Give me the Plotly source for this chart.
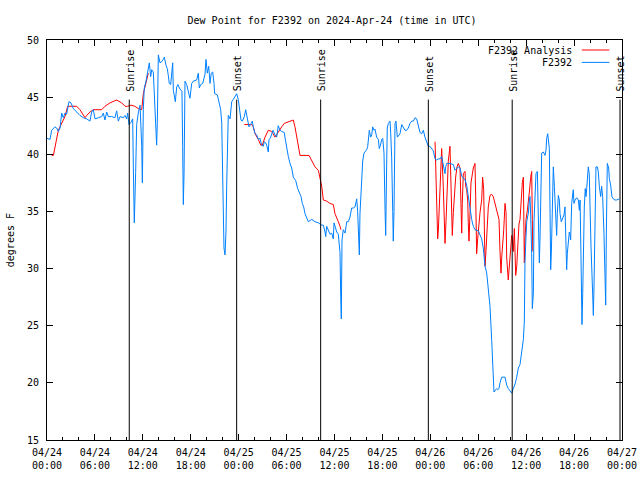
import pandas as pd
import plotly.graph_objects as go

BASE = pd.Timestamp("2024-04-24 00:00")

# F2392 observations: hours after 2024-04-24 00:00 UTC, dew point (F)
blue_hours = [
    0.0, 0.38, 0.58, 1.0, 1.21, 1.42, 1.63, 1.84, 2.04, 2.25, 2.46, 2.75, 3.0, 3.3, 3.71, 4.13, 4.55, 4.97,
    5.38, 5.59, 5.8, 6.01, 6.43, 6.85, 7.05, 7.26, 7.47, 7.68, 8.1, 8.51, 8.72, 8.93, 9.14, 9.56, 9.77, 9.98,
    10.1, 10.27, 10.52, 10.73, 10.81, 10.93, 11.1, 11.23, 11.43, 11.65, 11.86, 11.94, 12.06, 12.18, 12.4,
    12.56, 12.69, 12.81, 12.98, 13.11, 13.31, 13.52, 13.61, 13.73, 13.81, 13.94, 14.15, 14.36, 14.56, 14.69,
    14.9, 15.06, 15.19, 15.31, 15.49, 15.61, 15.74, 15.82, 15.94, 16.07, 16.24, 16.4, 16.57, 16.74, 16.9,
    16.99, 17.07, 17.16, 17.28, 17.49, 17.69, 17.9, 18.12, 18.32, 18.74, 18.95, 19.07, 19.25, 19.5, 19.78,
    19.91, 20.07, 20.25, 20.41, 20.57, 20.75, 20.91, 21.0, 21.33, 21.58, 21.75, 21.88, 22.0, 22.16, 22.29,
    22.41, 22.5, 22.63, 22.7, 22.92, 23.13, 23.33, 23.54, 23.75, 23.95, 24.08, 24.17, 24.29, 24.46, 24.71,
    24.88, 25.0, 25.13, 25.29, 25.55, 25.71, 25.83, 26.05, 26.26, 26.46, 26.67, 26.88, 27.09, 27.21, 27.38,
    27.51, 27.71, 27.8, 27.96, 28.13, 28.3, 28.55, 28.76, 28.96, 29.18, 29.39, 29.71, 29.89, 30.01, 30.22,
    30.43, 30.64, 30.84, 31.14, 31.39, 31.55, 31.81, 31.97, 32.14, 32.31, 32.52, 32.72, 32.93, 33.15, 33.56,
    33.98, 34.4, 34.6, 34.81, 34.9, 35.02, 35.23, 35.44, 35.65, 35.85, 35.94, 36.1, 36.28, 36.48, 36.69,
    36.78, 36.85, 36.94, 37.1, 37.32, 37.53, 37.73, 37.94, 38.15, 38.36, 38.57, 38.69, 38.78, 38.9, 38.98,
    39.11, 39.19, 39.28, 39.41, 39.53, 39.69, 39.82, 40.03, 40.16, 40.24, 40.36, 40.53, 40.66, 40.78, 40.95,
    41.07, 41.28, 41.49, 41.61, 41.79, 41.91, 42.04, 42.2, 42.33, 42.41, 42.54, 42.61, 42.74, 42.95, 43.04,
    43.16, 43.29, 43.36, 43.45, 43.58, 43.7, 43.87, 43.99, 44.2, 44.42, 44.61, 44.83, 45.04, 45.24, 45.45,
    45.67, 45.87, 46.08, 46.29, 46.49, 46.71, 46.92, 47.12, 47.33, 47.54, 47.75, 47.96, 48.17, 48.37, 48.59,
    48.8, 49.0, 49.21, 49.42, 49.62, 49.84, 49.92, 50.05, 50.46, 50.88, 51.09, 51.3, 51.5, 51.72, 51.84,
    51.93, 52.13, 52.34, 52.55, 52.75, 52.97, 53.18, 53.38, 53.59, 54.01, 54.22, 54.43, 54.63, 54.85, 55.06,
    55.26, 55.47, 55.68, 55.81, 55.97, 56.19, 56.31, 56.44, 56.6, 56.72, 56.94, 57.35, 57.56, 57.76, 57.98,
    58.19, 58.39, 58.61, 58.82, 59.02, 59.23, 59.44, 59.65, 59.77, 59.85, 59.98, 60.07, 60.2, 60.27, 60.4,
    60.48, 60.57, 60.69, 60.77, 60.9, 60.98, 61.11, 61.23, 61.4, 61.52, 61.65, 61.73, 61.82, 61.94, 62.15,
    62.36, 62.49, 62.57, 62.7, 62.9, 62.99, 63.07, 63.15, 63.24, 63.32, 63.4, 63.53, 63.65, 63.82, 63.9,
    64.03, 64.15, 64.24, 64.4, 64.58, 64.74, 64.86, 64.99, 65.07, 65.15, 65.28, 65.4, 65.49, 65.57, 65.7,
    65.9, 65.99, 66.12, 66.33, 66.53, 66.66, 66.75, 66.87, 66.99, 67.08, 67.15, 67.28, 67.4, 67.49, 67.58,
    67.65, 67.78, 67.9, 67.99, 68.12, 68.33, 68.41, 68.49, 68.62, 68.74, 68.91, 69.03, 69.16, 69.33, 69.45,
    69.58, 69.74, 69.87, 69.96, 70.04, 70.16, 70.33, 70.41, 70.58, 70.74, 70.91, 71.12, 71.33, 71.66,
]
blue_dewpt = [
    41.4, 41.3, 42.1, 42.4, 42.3, 42.0, 42.3, 43.6, 43.2, 43.6, 43.5, 44.6, 44.5, 44.0, 43.7, 43.4, 43.2, 43.1,
    42.9, 43.7, 43.9, 43.1, 43.2, 43.3, 43.6, 43.0, 43.7, 43.3, 43.3, 43.2, 43.8, 42.9, 43.3, 43.2, 43.4, 43.1,
    43.6, 42.6, 42.8, 43.1, 38.9, 34.0, 38.4, 42.6, 43.6, 44.3, 40.7, 37.5, 43.9, 45.8, 46.4,
    47.1, 47.8, 48.0, 46.8, 47.4, 47.2, 44.0, 41.9, 40.8, 42.7, 48.7, 48.0, 48.1, 48.3, 48.5,
    47.8, 47.5, 46.9, 46.2, 46.1, 47.5, 48.0, 45.6, 44.9, 44.6, 45.9, 46.1, 45.8, 45.6, 45.5,
    40.7, 35.6, 38.3, 46.4, 46.1, 45.5, 44.9, 46.2, 46.4, 46.5, 47.1, 45.8, 46.1, 46.2, 47.0,
    48.3, 47.1, 47.7, 46.2, 47.1, 47.2, 46.2, 45.3, 45.2, 44.5, 43.9, 42.7, 37.2, 31.8, 31.2,
    33.2, 37.3, 41.4, 43.4, 43.1, 44.6, 44.8, 45.0, 45.3, 44.8, 44.0, 43.9, 43.0, 42.9, 43.3,
    43.9, 43.4, 43.0, 42.4, 42.7, 42.9, 42.4, 41.8, 41.7, 41.3, 41.4, 40.8, 40.7, 41.1, 41.0,
    40.8, 40.2, 41.3, 41.4, 41.8, 42.1, 41.7, 41.5, 42.5, 42.1, 42.0, 41.9, 41.1, 40.5, 39.8,
    39.2, 38.8, 38.0, 37.7, 37.0, 36.7, 36.3, 35.7, 35.4, 34.8, 34.5, 34.1, 34.2, 34.3, 34.1,
    34.0, 33.8, 33.8, 33.2, 32.8, 33.7, 33.4, 33.0, 33.1, 32.6, 34.0, 33.6, 33.2, 33.0, 31.4,
    27.5, 25.6, 32.5, 33.4, 33.1, 34.1, 34.1, 34.5, 35.3, 35.3, 35.4, 35.7, 36.1, 35.0, 32.5,
    31.2, 34.8, 36.3, 38.3, 39.4, 40.1, 40.2, 40.4, 40.7, 41.5, 42.1, 41.5, 41.7, 42.4, 42.1,
    42.2, 41.5, 41.3, 40.5, 40.9, 41.3, 41.4, 40.1, 35.1, 32.9, 39.5, 42.3, 42.7, 42.9, 41.8,
    39.7, 35.0, 32.4, 35.0, 42.7, 42.9, 41.5, 41.6, 41.8, 42.6, 42.4, 42.1, 42.1, 42.3, 42.7,
    42.9, 42.9, 43.2, 43.1, 42.4, 41.9, 41.8, 42.1, 41.5, 41.1, 40.7, 40.7, 40.5, 40.3, 39.6,
    39.5, 39.6, 39.6, 39.8, 39.1, 38.3, 38.9, 39.2, 39.2, 39.1, 38.6, 38.8, 38.9, 38.8, 38.5,
    38.1, 37.9, 37.8, 37.3, 36.3, 35.1, 34.3, 33.7, 33.4, 33.3, 33.0, 32.6, 31.8, 30.2, 29.6,
    28.4, 26.7, 23.8, 21.8, 19.2, 19.4, 19.5, 19.4, 19.5, 20.0, 20.5, 20.5, 19.8, 19.5, 19.3,
    19.1, 19.5, 19.9, 20.5, 21.3, 21.6, 22.6, 23.8, 25.4, 30.5, 32.8, 34.1, 34.6, 34.8, 36.0,
    36.3, 34.5, 31.3, 26.5, 27.8, 34.1, 36.7, 38.3, 38.5, 32.8, 30.5, 32.5, 37.2, 40.1, 40.2,
    39.9, 40.4, 41.4, 41.8, 40.5, 34.8, 29.9, 31.3, 34.3, 37.5, 38.9, 37.2, 35.4, 32.9, 34.8,
    36.4, 36.0, 34.8, 34.1, 34.5, 34.7, 35.4, 32.6, 29.9, 31.3, 32.5, 33.2, 33.0, 32.5, 35.7,
    36.9, 35.7, 36.0, 36.2, 36.0, 35.1, 36.0, 30.8, 25.1, 27.8, 30.8, 35.4, 37.0, 36.3, 37.0,
    38.0, 38.9, 38.3, 35.3, 31.9, 27.7, 25.9, 28.3, 35.4, 38.9, 38.9, 38.5, 37.2, 36.3, 37.2,
    36.3, 33.1, 29.6, 26.8, 33.1, 39.2, 38.8, 37.9, 37.3, 36.3, 36.1, 36.0, 36.0, 36.1,
]

# F2392 Analysis (None marks a gap)
red_hours = [
    0.6, 0.8, 1.42, 1.84, 2.25, 2.59, 3.71, 4.13, 4.55, 4.76, 4.97, 5.38, 5.8, 6.85, 7.26, 7.89, 8.72, 9.35,
    9.77, 10.1, 10.52, 11.0, 11.43, 11.86, 12.06, 12.27, 12.48, 12.69, None,
    24.71, 25.63, 25.83, 26.05, 26.46, 26.76, 26.96, 27.3, 27.71, 28.13, 28.55, 28.96, 29.39, 29.71, 30.64,
    30.84, 31.05, 31.26, 31.47, 31.68, 32.81, 33.15, 33.56, 33.98, 34.19, 34.4, 34.6, 35.02, 35.44, 35.85,
    36.06, 36.28, 36.48, 36.69, 36.81, None,
    48.59, 48.8, 48.92, 49.0, 49.09, 49.21, 49.42, 49.62, 49.75, 49.84, 49.96, 50.09, 50.25, 50.46, 50.67,
    50.75, 50.88, 51.0, 51.17, 51.34, 51.5, 51.72, 51.84, 51.93, 52.0, 52.13, 52.34, 52.43, 52.55, 52.68,
    52.75, 52.84, 52.97, 53.09, 53.38, 53.59, 53.68, 53.8, 53.93, 54.01, 54.22, 54.43, 54.55, 54.68, 54.76,
    54.85, 54.97, 55.09, 55.26, 55.47, 55.68, 55.88, 56.1, 56.31, 56.51, 56.6, 56.72, 56.85, 56.94, 57.02,
    57.19, 57.27, 57.35, 57.48, 57.56, 57.76, 57.85, 57.98, 58.1, 58.19, 58.27, 58.39, 58.52, 58.61, 58.69,
    58.82, 58.94, 59.1, 59.23, 59.35, 59.52, 59.65, 59.77, 59.85, 59.98, 60.15, 60.27, 60.4, 60.57, 60.69,
    60.77, 60.83,
]
red_dewpt = [
    39.9, 39.9, 42.1, 42.7, 43.3, 44.2, 44.2, 43.9, 43.4, 43.2, 43.4, 43.7, 43.9, 43.9, 44.2, 44.5, 44.75, 44.5,
    44.2, 44.2, 44.3, 44.2, 44.0, 43.9, 45.3, 45.9, 46.4, 47.1, None,
    42.6, 42.6, 42.4, 41.8, 41.3, 40.8, 40.8, 41.5, 42.1, 42.0, 41.5, 42.0, 42.4, 42.7, 42.9,
    43.0, 42.4, 41.5, 40.7, 39.9, 39.9, 39.5, 38.9, 38.6, 38.0, 37.2, 36.0, 35.9, 35.7, 35.6,
    34.8, 34.5, 34.1, 33.7, 33.4, None,
    41.1, 34.9, 32.6, 33.3, 34.9, 38.0, 40.5, 37.2, 34.2, 32.2, 34.1, 37.2, 39.4, 40.7, 36.3,
    32.9, 34.9, 36.6, 38.0, 38.9, 39.2, 38.8, 33.8, 33.1, 35.7, 38.3, 38.5, 37.2, 36.9, 36.0,
    34.0, 32.4, 34.9, 37.5, 38.8, 39.2, 36.3, 31.3, 32.6, 33.5, 34.9, 36.0, 38.0, 36.9, 34.3,
    30.2, 31.6, 33.7, 35.4, 36.4, 36.5, 36.3, 35.7, 35.1, 34.7, 34.3, 31.6, 29.6, 31.0, 32.2,
    33.4, 34.5, 35.7, 34.9, 31.0, 29.0, 29.9, 30.7, 31.9, 32.9, 32.5, 31.5, 33.5, 31.2, 29.4,
    30.2, 31.9, 33.9, 34.3, 36.0, 37.5, 38.0, 30.5, 32.5, 34.3, 35.1, 35.7, 36.7, 38.0, 38.5,
    34.3, 31.5,
]

sun_labels = ["Sunrise", "Sunset", "Sunrise", "Sunset", "Sunrise", "Sunset"]
sun_times = ["2024-04-24 10:18", "2024-04-24 23:45", "2024-04-25 10:16",
             "2024-04-25 23:45", "2024-04-26 10:15", "2024-04-26 23:45"]

tick_times = ["2024-04-24 00:00", "2024-04-24 06:00", "2024-04-24 12:00", "2024-04-24 18:00",
              "2024-04-25 00:00", "2024-04-25 06:00", "2024-04-25 12:00", "2024-04-25 18:00",
              "2024-04-26 00:00", "2024-04-26 06:00", "2024-04-26 12:00", "2024-04-26 18:00",
              "2024-04-27 00:00"]
tick_labels = ["04/24<br>00:00", "04/24<br>06:00", "04/24<br>12:00", "04/24<br>18:00",
               "04/25<br>00:00", "04/25<br>06:00", "04/25<br>12:00", "04/25<br>18:00",
               "04/26<br>00:00", "04/26<br>06:00", "04/26<br>12:00", "04/26<br>18:00",
               "04/27<br>00:00"]

RED = "#ff0000"
BLUE = "#0080ff"
FONT = "DejaVu Sans Mono"


def to_time(hours):
    return [None if h is None else BASE + pd.Timedelta(hours=h) for h in hours]


fig = go.Figure()
fig.add_trace(go.Scatter(x=to_time(red_hours), y=red_dewpt, mode="lines", name="F2392 Analysis",
                         line=dict(color=RED, width=1), connectgaps=False))
fig.add_trace(go.Scatter(x=to_time(blue_hours), y=blue_dewpt, mode="lines", name="F2392",
                         line=dict(color=BLUE, width=1)))

shapes = []
annotations = []
for lab, t in zip(sun_labels, sun_times):
    shapes.append(dict(type="line", xref="x", yref="paper", x0=t, x1=t, y0=0, y1=0.851,
                       line=dict(color="black", width=1)))
    annotations.append(dict(x=t, y=0.866, xref="x", yref="paper", text=lab, showarrow=False,
                            textangle=-90, xanchor="center", yanchor="bottom", xshift=1,
                            font=dict(family=FONT, size=10, color="black")))

# legend (gnuplot style: text right-aligned, sample to its right)
for i, (name, col) in enumerate([("F2392 Analysis", RED), ("F2392", BLUE)]):
    yp = 0.975 - i * 0.031
    annotations.append(dict(x=0.9165, y=yp, xref="paper", yref="paper", text=name, showarrow=False,
                            xanchor="right", yanchor="middle",
                            font=dict(family=FONT, size=10, color="black")))
    shapes.append(dict(type="line", xref="paper", yref="paper", x0=0.93, x1=0.978, y0=yp, y1=yp,
                       line=dict(color=col, width=1)))

annotations.append(dict(x=-0.064, y=0.5, xref="paper", yref="paper", text="degrees F", showarrow=False,
                        textangle=-90, xanchor="center", yanchor="middle",
                        font=dict(family=FONT, size=10, color="black")))

fig.update_layout(
    width=640, height=480, autosize=False,
    margin=dict(l=47, r=18, t=40, b=40, pad=0, autoexpand=False),
    paper_bgcolor="white", plot_bgcolor="white",
    showlegend=False,
    font=dict(family=FONT, size=10, color="black"),
    title=dict(text="Dew Point for F2392 on 2024-Apr-24 (time in UTC)", x=0.4957, xref="paper",
               y=1 - 20 / 480, yref="container", xanchor="center", yanchor="middle",
               font=dict(family=FONT, size=10, color="black")),
    shapes=shapes, annotations=annotations,
)
fig.update_xaxes(
    type="date", range=[tick_times[0], tick_times[-1]],
    tickvals=tick_times, ticktext=tick_labels, automargin=False, ticklabeloverflow="allow",
    ticks="inside", ticklen=6, tickcolor="black", tickwidth=1,
    minor=dict(dtick=2 * 3600 * 1000, ticks="inside", ticklen=3, tickcolor="black", showgrid=False),
    showline=True, linecolor="black", linewidth=1, mirror="ticks",
    showgrid=False, zeroline=False, ticklabelstandoff=3,
    tickfont=dict(family=FONT, size=10, color="black"),
)
fig.update_yaxes(
    range=[15, 50], dtick=5, tick0=15, automargin=False,
    ticks="inside", ticklen=6, tickcolor="black", tickwidth=1,
    showline=True, linecolor="black", linewidth=1, mirror="ticks",
    showgrid=False, zeroline=False, ticklabelstandoff=5,
    tickfont=dict(family=FONT, size=10, color="black"),
)

# remove the default 8px page margin so the 640x480 figure fills the window exactly
fig.write_html("out.html", config={"displayModeBar": False},
               post_script="document.documentElement.style.margin='0';"
                           "document.body.style.margin='0';document.body.style.overflow='hidden';")
